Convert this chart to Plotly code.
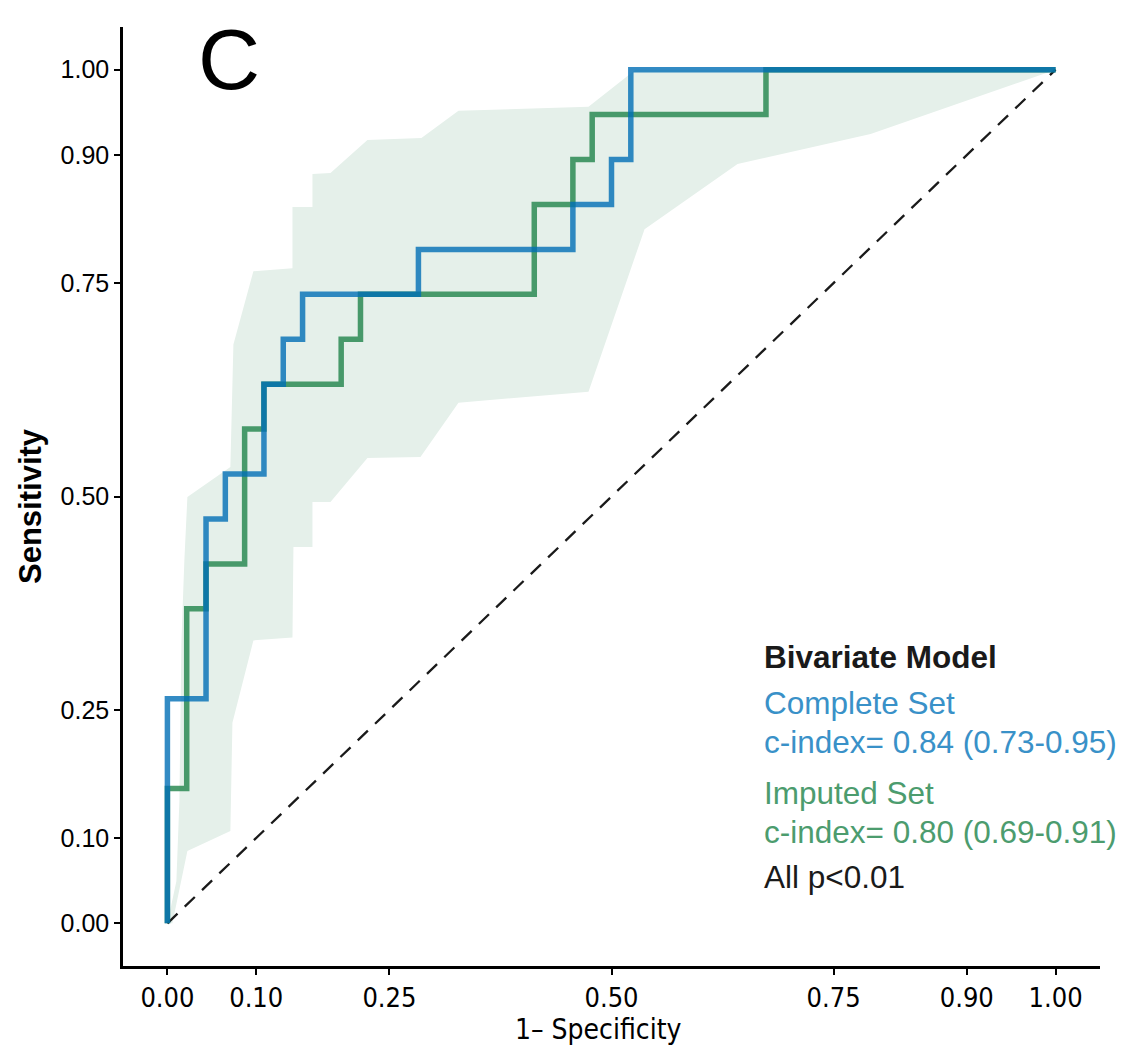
import plotly.graph_objects as go

# ---- data (ROC corner points) ----
N_NEG = 46
N_POS = 19
complete_fp = [0, 0, 2, 2, 3, 3, 5, 5, 6, 6, 7, 7, 13, 13, 21, 21, 23, 23, 24, 24, 46]
complete_tp = [0, 5, 5, 9, 9, 10, 10, 12, 12, 13, 13, 14, 14, 15, 15, 16, 16, 17, 17, 19, 19]
imputed_fp = [0, 0, 1, 1, 2, 2, 4, 4, 5, 5, 9, 9, 10, 10, 19, 19, 21, 21, 22, 22, 31, 31, 46]
imputed_tp = [0, 3, 3, 7, 7, 8, 8, 11, 11, 12, 12, 13, 13, 14, 14, 16, 16, 17, 17, 18, 18, 19, 19]

# confidence band (imputed set)
band_upper_x = [0.0, 0.0101, 0.0135, 0.0158, 0.0191, 0.0225, 0.0709, 0.0743, 0.0968, 0.1408, 0.1408,
                0.1633, 0.1633, 0.1836, 0.2252, 0.286, 0.3277, 0.4741, 0.527, 1.0]
band_upper_y = [0.0, 0.0494, 0.1434, 0.3314, 0.4254, 0.4994, 0.5347, 0.678, 0.7638, 0.7673, 0.839,
                0.839, 0.8778, 0.879, 0.9177, 0.920, 0.9518, 0.9565, 1.0, 1.0]
band_lower_x = [1.0, 0.7917, 0.6419, 0.5372, 0.4741, 0.3277, 0.2849, 0.2252, 0.1836, 0.1633, 0.1633,
                0.1419, 0.1408, 0.0968, 0.0732, 0.0709, 0.0225, 0.0056]
band_lower_y = [1.0, 0.9248, 0.8896, 0.8132, 0.6228, 0.6099, 0.5464, 0.5452, 0.4935, 0.4935, 0.4407,
                0.4407, 0.3349, 0.3314, 0.235, 0.1081, 0.0846, 0.0]

tick_vals = [0, 0.10, 0.25, 0.50, 0.75, 0.90, 1.00]
tick_text = ["0.00", "0.10", "0.25", "0.50", "0.75", "0.90", "1.00"]

legend_title = "Bivariate Model"
complete_label = ["Complete Set", "c-index= 0.84 (0.73-0.95)"]
imputed_label = ["Imputed Set", "c-index= 0.80 (0.69-0.91)"]
p_label = "All p<0.01"
panel_label = "C"

# ---- styles ----
BLUE_LINE = "rgba(0,110,181,0.8)"
GREEN_LINE = "rgba(31,131,74,0.8)"
BLUE_TXT = "#3991C8"
GREEN_TXT = "#4C9C6E"
BAND = "#E5F0EA"
SANS = "Liberation Sans, Arial, Helvetica, sans-serif"
NARROW = "Liberation Sans Narrow, Arial Narrow, DejaVu Sans Condensed, sans-serif"

# page has an 8px body margin: build the figure 8px smaller and offset positions
OFF = 8
W, H = 1124 - OFF, 1048 - OFF
ML, MR, MT, MB = 123 - OFF, 24, 27 - OFF, 82

fig = go.Figure()

fig.add_trace(go.Scatter(
    x=band_upper_x + band_lower_x, y=band_upper_y + band_lower_y,
    mode="lines", fill="toself", fillcolor=BAND, line=dict(width=0, color=BAND),
    hoverinfo="skip", showlegend=False))

fig.add_trace(go.Scatter(x=[0, 1], y=[0, 1], mode="lines",
                         line=dict(color="#1a1a1a", width=2.3, dash="14px,10px"),
                         showlegend=False))

fig.add_trace(go.Scatter(x=[v / N_NEG for v in imputed_fp], y=[v / N_POS for v in imputed_tp],
                         mode="lines", line=dict(color=GREEN_LINE, width=5.5), showlegend=False))
fig.add_trace(go.Scatter(x=[v / N_NEG for v in complete_fp], y=[v / N_POS for v in complete_tp],
                         mode="lines", line=dict(color=BLUE_LINE, width=5.5), showlegend=False))

axis_common = dict(range=[-0.05, 1.05], tickvals=tick_vals, ticktext=tick_text,
                   showgrid=False, zeroline=False, showline=True, linecolor="black",
                   linewidth=2.5, ticks="outside", ticklen=6, tickwidth=1.5, tickcolor="black")

fig.update_xaxes(**axis_common, tickfont=dict(family=NARROW, size=27, color="black"),
                 ticklabelstandoff=0)
fig.update_yaxes(**axis_common, tickfont=dict(family=SANS, size=25, color="black"),
                 ticklabelstandoff=0)

fig.update_layout(
    width=W, height=H,
    margin=dict(l=ML, r=MR, t=MT, b=MB),
    plot_bgcolor="white", paper_bgcolor="white",
    showlegend=False,
)

ph = H - MT - MB
pw = W - ML - MR


def ypaper(py):
    return (H - MB - (py - OFF)) / ph


def xpaper(px):
    return ((px - OFF) - ML) / pw


left = 762
ann_list = [
    (legend_title, 657, "#1a1a1a", True),
    (complete_label[0], 703, BLUE_TXT, False),
    (complete_label[1], 742, BLUE_TXT, False),
    (imputed_label[0], 793, GREEN_TXT, False),
    (imputed_label[1], 832, GREEN_TXT, False),
    (p_label, 877, "#1a1a1a", False),
]

annotations = []
for text, py, col, bold in ann_list:
    annotations.append(dict(
        text=f"<b>{text}</b>" if bold else text,
        x=xpaper(left), y=ypaper(py), xref="paper", yref="paper",
        xanchor="left", yanchor="middle", showarrow=False,
        font=dict(family=SANS, size=31.5, color=col)))

annotations.append(dict(text="1\u2013 Specificity", x=xpaper(598), y=ypaper(1029),
                        xref="paper", yref="paper", xanchor="center", yanchor="middle",
                        showarrow=False, font=dict(family=NARROW, size=28, color="black")))
annotations.append(dict(text="<b>Sensitivity</b>", x=xpaper(31), y=ypaper(506),
                        xref="paper", yref="paper", xanchor="center", yanchor="middle",
                        textangle=-90, showarrow=False,
                        font=dict(family=SANS, size=31, color="black")))
annotations.append(dict(text=panel_label, x=xpaper(229), y=ypaper(59),
                        xref="paper", yref="paper", xanchor="center", yanchor="middle",
                        showarrow=False, font=dict(family=SANS, size=86, color="black")))

fig.update_layout(annotations=annotations)

fig.write_html("out.html")
